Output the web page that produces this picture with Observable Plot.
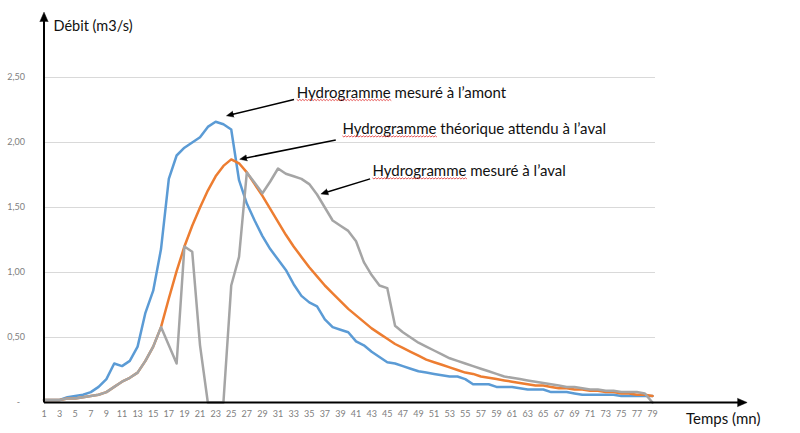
<!DOCTYPE html>
<html><head><meta charset="utf-8">
<script src="https://cdn.jsdelivr.net/npm/d3@7"></script>
<script src="https://cdn.jsdelivr.net/npm/@observablehq/plot@0.6"></script>
<style>body{margin:0;background:#fff} #chart svg{display:block}</style>
</head><body><div id="chart"></div>
<script>
const temps = [1,2,3,4,5,6,7,8,9,10,11,12,13,14,15,16,17,18,19,20,21,22,23,24,25,26,27,28,29,30,31,32,33,34,35,36,37,38,39,40,41,42,43,44,45,46,47,48,49,50,51,52,53,54,55,56,57,58,59,60,61,62,63,64,65,66,67,68,69,70,71,72,73,74,75,76,77,78,79];
const amont = [0.02,0.02,0.02,0.04,0.05,0.06,0.08,0.12,0.18,0.30,0.28,0.32,0.43,0.69,0.86,1.18,1.72,1.90,1.96,2.00,2.04,2.12,2.16,2.14,2.10,1.71,1.53,1.40,1.28,1.18,1.10,1.02,0.91,0.82,0.77,0.74,0.64,0.58,0.56,0.54,0.47,0.44,0.39,0.35,0.31,0.30,0.28,0.26,0.24,0.23,0.22,0.21,0.20,0.20,0.18,0.14,0.14,0.14,0.12,0.12,0.12,0.11,0.10,0.10,0.10,0.08,0.08,0.08,0.07,0.06,0.06,0.06,0.06,0.06,0.05,0.05,0.05,0.05,0.05];
const theorique = [0.02,0.02,0.02,0.03,0.03,0.04,0.05,0.06,0.08,0.12,0.16,0.19,0.23,0.32,0.43,0.58,0.80,1.01,1.20,1.36,1.50,1.63,1.74,1.82,1.87,1.84,1.77,1.68,1.59,1.49,1.39,1.29,1.20,1.12,1.04,0.97,0.90,0.84,0.78,0.72,0.67,0.62,0.57,0.53,0.49,0.45,0.42,0.39,0.36,0.33,0.31,0.29,0.27,0.25,0.23,0.22,0.20,0.19,0.18,0.17,0.16,0.15,0.14,0.13,0.13,0.12,0.11,0.11,0.10,0.10,0.09,0.09,0.08,0.08,0.07,0.07,0.06,0.06,0.05];
const aval = [0.02,0.02,0.02,0.03,0.03,0.04,0.05,0.06,0.08,0.12,0.16,0.19,0.23,0.32,0.43,0.58,0.44,0.30,1.20,1.16,0.44,0.00,0.00,0.00,0.90,1.12,1.77,1.69,1.61,1.70,1.80,1.76,1.74,1.72,1.68,1.60,1.50,1.40,1.36,1.32,1.24,1.08,0.98,0.90,0.88,0.59,0.54,0.50,0.46,0.43,0.40,0.37,0.34,0.32,0.30,0.28,0.26,0.24,0.22,0.20,0.19,0.18,0.17,0.16,0.15,0.14,0.13,0.12,0.12,0.11,0.10,0.10,0.09,0.09,0.08,0.08,0.08,0.07,0.00];
const yTicks = [0.5,1,1.5,2,2.5];
const xTicks = [1,3,5,7,9,11,13,15,17,19,21,23,25,27,29,31,33,35,37,39,41,43,45,47,49,51,53,55,57,59,61,63,65,67,69,71,73,75,77,79];
const annotations = [
  {label:"Hydrogramme mesuré à l’amont", tx:33.4, ty:2.38, x1:33.05, y1:2.33, x2:24.7, y2:2.21},
  {label:"Hydrogramme théorique attendu à l’aval", tx:39.25, ty:2.10, x1:38.4, y1:2.02, x2:26.4, y2:1.875},
  {label:"Hydrogramme mesuré à l’aval", tx:43.1, ty:1.777, x1:42.8, y1:1.72, x2:36.8, y2:1.61}
];
const axisArrows = [
  {x1:1, y1:0, x2:90.7, y2:0},
  {x1:1, y1:0, x2:1, y2:2.977}
];
const axisTitles = [
  {label:"Débit (m3/s)", x:2.22, y:2.89, size:14.5},
  {label:"Temps (mn)", x:83.3, y:-0.131, size:15}
];

const toRows = vals => temps.map((t,i)=>({t, v:vals[i]}));
const fr = d => d.toFixed(2).replace(".", ",");

const svg = Plot.plot({
  width: 800, height: 433,
  marginLeft: 43.5, marginRight: 145, marginTop: 77, marginBottom: 31,
  x: {type:"linear", domain:[1,79], range:[43.5,652]},
  y: {domain:[0,2.5], range:[402,77]},
  style: {fontFamily:"Lato, 'Open Sans', sans-serif", background:"#fff", overflow:"visible"},
  marks: [
    Plot.gridY(yTicks, {stroke:"#d9d9d9", strokeOpacity:1, strokeWidth:1}),
    Plot.axisY(yTicks, {tickSize:0, tickPadding:19, tickFormat:fr, fill:"#808080", fontSize:9, label:null}),
    Plot.axisY([0], {tickSize:0, tickPadding:24, tickFormat:()=>"-", fill:"#808080", fontSize:9, label:null}),
    Plot.axisX(xTicks, {tickSize:0, tickPadding:8, fill:"#808080", fontSize:9, label:null}),
    Plot.line(toRows(amont), {x:"t", y:"v", stroke:"#5B9BD5", strokeWidth:2.5, strokeLinejoin:"round"}),
    Plot.line(toRows(theorique), {x:"t", y:"v", stroke:"#ED7D31", strokeWidth:2.5, strokeLinejoin:"round"}),
    Plot.line(toRows(aval), {x:"t", y:"v", stroke:"#A5A5A5", strokeWidth:2.5, strokeLinejoin:"round"}),
    Plot.link(axisArrows, {x1:"x1", y1:"y1", x2:"x2", y2:"y2", stroke:"#000", strokeWidth:2, markerEnd:"arrow"}),
    Plot.link(annotations, {x1:"x1", y1:"y1", x2:"x2", y2:"y2", stroke:"#000", strokeWidth:1.5, markerEnd:"arrow"}),
    Plot.text(annotations, {x:"tx", y:"ty", text:"label", textAnchor:"start", lineAnchor:"middle", fontSize:15, fill:"#111"}),
    Plot.text(axisTitles, {x:"x", y:"y", text:"label", textAnchor:"start", lineAnchor:"middle", fontSize:d=>d.size, fill:"#111"})
  ]
});

svg.querySelectorAll("marker").forEach(m => {
  m.setAttribute("stroke-width", "0.4");
  const p = m.querySelector("path");
  if (p) { p.setAttribute("d", "M-4.5,-3L2.5,0L-4.5,3Z"); p.setAttribute("fill", "#000"); }
});
document.getElementById("chart").append(svg);

// spell-check style red wavy underline beneath "Hydrogramme"
const ns = "http://www.w3.org/2000/svg";
const word = "Hydrogramme";
svg.querySelectorAll("text").forEach(t => {
  if (!t.textContent.startsWith(word + " ")) return;
  const bb = t.getBBox();
  const start = t.getStartPositionOfChar(0);
  const w = t.getSubStringLength(0, word.length);
  const yBase = bb.y + bb.height - 1.5;
  let d = `M${start.x},${yBase}`;
  for (let x = start.x, k = 0; x < start.x + w; x += 1.5, k++) {
    d += `L${x + 1.5},${yBase + (k % 2 ? 0 : 1.2)}`;
  }
  const path = document.createElementNS(ns, "path");
  path.setAttribute("d", d);
  path.setAttribute("fill", "none");
  path.setAttribute("stroke", "#e03030");
  path.setAttribute("stroke-width", "0.8");
  const tr = t.getAttribute("transform");
  if (tr) path.setAttribute("transform", tr);
  t.parentNode.appendChild(path);
});
</script>
</body></html>
